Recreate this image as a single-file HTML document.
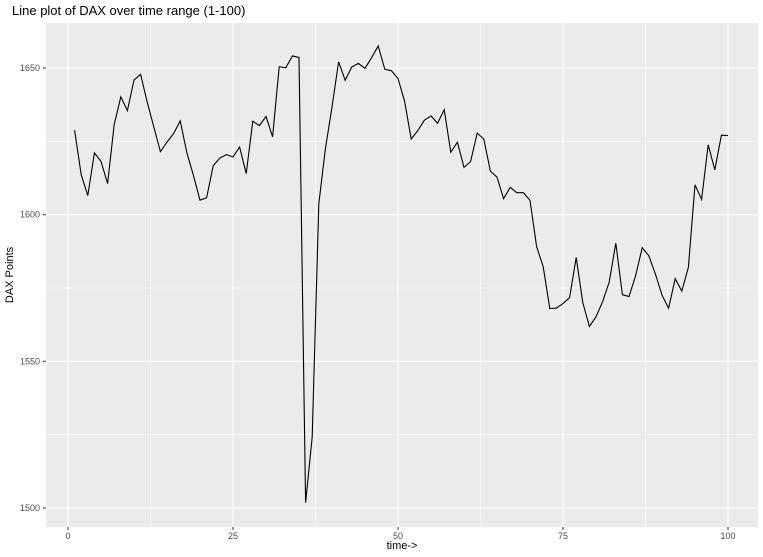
<!DOCTYPE html>
<html><head><meta charset="utf-8">
<style>
html,body{margin:0;padding:0;background:#fff;}
svg{display:block;font-family:"Liberation Sans",sans-serif;}
</style></head>
<body>
<svg id="chart" width="763" height="557" viewBox="0 0 763 557" xmlns="http://www.w3.org/2000/svg">
<text x="12" y="15" font-size="13" fill="#000">Line plot of DAX over time range (1-100)</text>
<rect x="46" y="23" width="712" height="504" fill="#EBEBEB"/>
<g id="grid"></g>
<g id="ticks"></g>
<path id="line" fill="none" stroke="#000" stroke-width="1.1"/>
<text x="402" y="549" font-size="11" text-anchor="middle">time-&gt;</text>
<text transform="translate(13,275) rotate(-90)" font-size="11" text-anchor="middle">DAX Points</text>
</svg>
<script>
const dax = [1628.75,1613.63,1606.51,1621.04,1618.16,1610.61,1630.75,1640.17,1635.47,1645.89,1647.84,1638.35,1629.93,1621.49,1624.74,1627.63,1631.99,1621.18,1613.42,1604.95,1605.75,1616.67,1619.29,1620.49,1619.67,1623.07,1613.98,1631.87,1630.37,1633.47,1626.55,1650.43,1650.06,1654.11,1653.60,1501.82,1524.28,1603.65,1622.49,1636.68,1652.10,1645.81,1650.36,1651.55,1649.88,1653.52,1657.51,1649.55,1649.09,1646.41,1638.65,1625.80,1628.64,1632.22,1633.65,1631.17,1635.80,1621.27,1624.70,1616.13,1618.12,1627.80,1625.79,1614.80,1612.80,1605.47,1609.32,1607.48,1607.48,1604.89,1589.12,1582.27,1567.99,1568.16,1569.71,1571.74,1585.41,1570.01,1561.88,1565.18,1570.34,1577.00,1590.29,1572.72,1572.07,1579.19,1588.73,1586.01,1579.77,1572.58,1568.09,1578.21,1573.94,1582.06,1610.18,1605.21,1623.84,1615.26,1627.08,1626.97];
const xTicks = [0,25,50,75,100];
const yTicks = [1500,1550,1600,1650];
const xMinor = [12.5,37.5,62.5,87.5];
const yMinor = [1525,1575,1625];
const ns = "http://www.w3.org/2000/svg";
const X = v => 68 + (v) * 6.6;
const Y = v => 508 - (v - 1500) * (440/150);
const grid = document.getElementById('grid');
const ticks = document.getElementById('ticks');
function line(parent,x1,y1,x2,y2,stroke,w){
  const l=document.createElementNS(ns,'line');
  l.setAttribute('x1',x1);l.setAttribute('y1',y1);l.setAttribute('x2',x2);l.setAttribute('y2',y2);
  l.setAttribute('stroke',stroke);l.setAttribute('stroke-width',w);
  parent.appendChild(l);return l;
}
function text(x,y,s,anchor){
  const t=document.createElementNS(ns,'text');
  t.setAttribute('x',x);t.setAttribute('y',y);t.setAttribute('font-size','9');
  t.setAttribute('fill','#4D4D4D');t.setAttribute('text-anchor',anchor);t.textContent=s;
  ticks.appendChild(t);return t;
}
xMinor.forEach(v=>{const l=line(grid,X(v),23,X(v),527,'#fff',0.5);

});
yMinor.forEach(v=>{const l=line(grid,46,Y(v),758,Y(v),'#fff',0.5);

});
xTicks.forEach(v=>{const l=line(grid,X(v),23,X(v),527,'#fff',1.1);


const tk=line(ticks,X(v),527,X(v),530,'#333',1);


const t=text(X(v),539,String(v),'middle');

});
yTicks.forEach(v=>{const l=line(grid,46,Y(v),758,Y(v),'#fff',1.1);


const tk=line(ticks,43,Y(v),46,Y(v),'#333',1);


const t=text(40,Y(v)+3,String(v),'end');

});
document.getElementById('line').setAttribute('d', dax.map((v,i)=>(i?'L':'M')+X(i+1).toFixed(2)+','+Y(v).toFixed(2)).join(''));
</script>
</body></html>
